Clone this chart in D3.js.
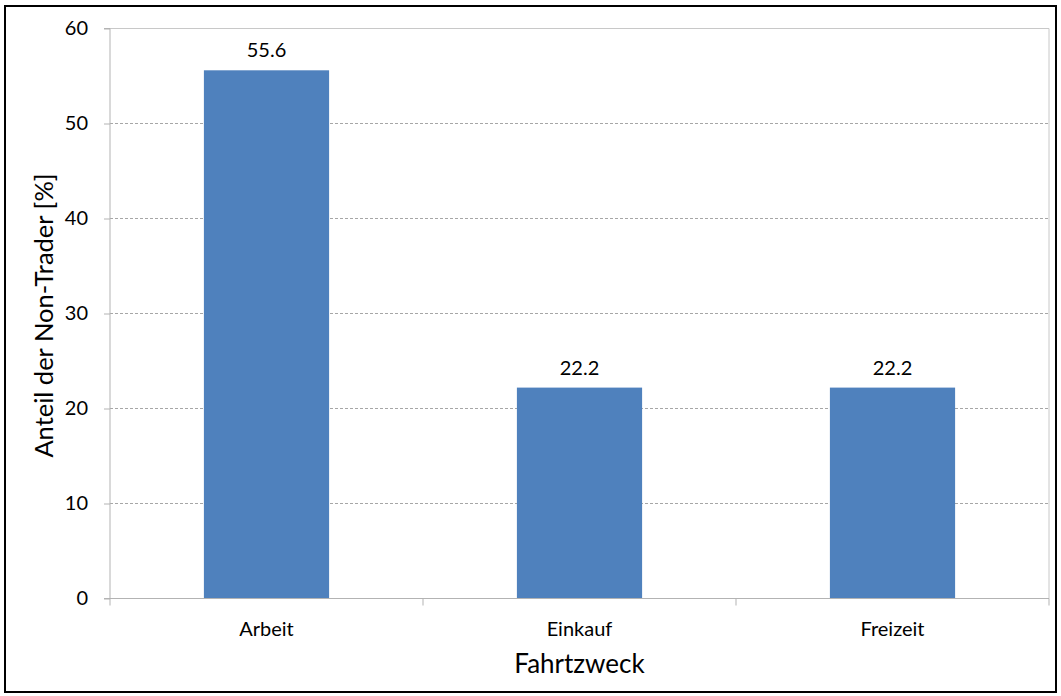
<!DOCTYPE html>
<html>
<head>
<meta charset="utf-8">
<script src="https://cdn.jsdelivr.net/npm/d3@7"></script>
<style>
  html, body { margin: 0; padding: 0; background: #fff; }
  svg { display: block; }
  text { font-family: Lato, "Open Sans", "Noto Sans", sans-serif; fill: #000; }
</style>
</head>
<body>
<svg id="chart" width="1061" height="696"></svg>
<script>
// Share of non-traders per trip purpose
const categories = ["Arbeit", "Einkauf", "Freizeit"];
const values = [55.6, 22.2, 22.2];
const yTicks = [0, 10, 20, 30, 40, 50, 60];

const svg = d3.select("#chart");
const W = 1061, H = 696;
const m = { left: 110, right: 12, top: 28.5, bottom: 97.5 };
const x0 = m.left, x1 = W - m.right, y0 = H - m.bottom, y1 = m.top;
const FONT = "Lato, 'Open Sans', sans-serif";

// frame around the whole chart
svg.append("rect")
  .attr("x", 5).attr("y", 6).attr("width", 1051).attr("height", 686)
  .attr("fill", "none").attr("stroke", "#000").attr("stroke-width", 2);

const x = d3.scaleBand().domain(categories).range([x0, x1])
  .paddingInner(0.6).paddingOuter(0.3);
const y = d3.scaleLinear().domain([0, 60]).range([y0, y1]);

// horizontal gridlines
svg.append("g").selectAll("line")
  .data(yTicks.filter(t => t > 0))
  .join("line")
  .attr("x1", x0).attr("x2", x1)
  .attr("y1", d => y(d)).attr("y2", d => y(d))
  .attr("stroke", d => d === 60 ? "#c8c8c8" : "#a6a6a6")
  .attr("stroke-width", 1)
  .attr("stroke-dasharray", d => d === 60 ? null : "3,2");

// right edge of the plot area
svg.append("line")
  .attr("x1", x1).attr("x2", x1).attr("y1", y1).attr("y2", y0)
  .attr("stroke", "#c8c8c8");

// bars
svg.append("g").selectAll("rect")
  .data(values)
  .join("rect")
  .attr("x", (d, i) => x(categories[i]))
  .attr("width", x.bandwidth())
  .attr("y", d => y(d))
  .attr("height", d => y(0) - y(d))
  .attr("fill", "#4f81bd");

// value labels
svg.append("g").selectAll("text")
  .data(values)
  .join("text")
  .attr("x", (d, i) => x(categories[i]) + x.bandwidth() / 2)
  .attr("y", d => y(d) - 13)
  .attr("text-anchor", "middle")
  .attr("font-size", 20)
  .text(d => d.toFixed(1));

// y axis
const yAxis = svg.append("g")
  .attr("transform", `translate(${x0},0)`)
  .call(d3.axisLeft(y).tickValues(yTicks).tickSize(6).tickPadding(16).tickFormat(d3.format("d")));
yAxis.select(".domain").attr("stroke", "#b3b3b3").attr("d", `M-6,${y1}H0V${y0}H-6`);
yAxis.selectAll(".tick line").attr("stroke", "#b3b3b3");
yAxis.selectAll(".tick text").attr("font-size", 20).attr("font-family", FONT).attr("fill", "#000");

// x axis with ticks at category boundaries
const bounds = d3.range(categories.length + 1).map(i => x0 + i * x.step());
const xg = svg.append("g");
xg.append("line")
  .attr("x1", x0).attr("x2", x1).attr("y1", y0).attr("y2", y0)
  .attr("stroke", "#b3b3b3");
xg.selectAll("line.tk")
  .data(bounds)
  .join("line")
  .attr("class", "tk")
  .attr("x1", d => d).attr("x2", d => d)
  .attr("y1", y0).attr("y2", y0 + 7)
  .attr("stroke", "#b3b3b3");
xg.selectAll("text")
  .data(categories)
  .join("text")
  .attr("x", d => x(d) + x.bandwidth() / 2)
  .attr("y", y0 + 37)
  .attr("text-anchor", "middle")
  .attr("font-size", 20)
  .text(d => d);

// axis titles
svg.append("text")
  .attr("x", (x0 + x1) / 2)
  .attr("y", 673)
  .attr("text-anchor", "middle")
  .attr("font-size", 26)
  .text("Fahrtzweck");

svg.append("text")
  .attr("transform", `translate(53,${(y0 + y1) / 2 + 2}) rotate(-90)`)
  .attr("text-anchor", "middle")
  .attr("font-size", 25.5)
  .text("Anteil der Non-Trader [%]");
</script>
</body>
</html>
